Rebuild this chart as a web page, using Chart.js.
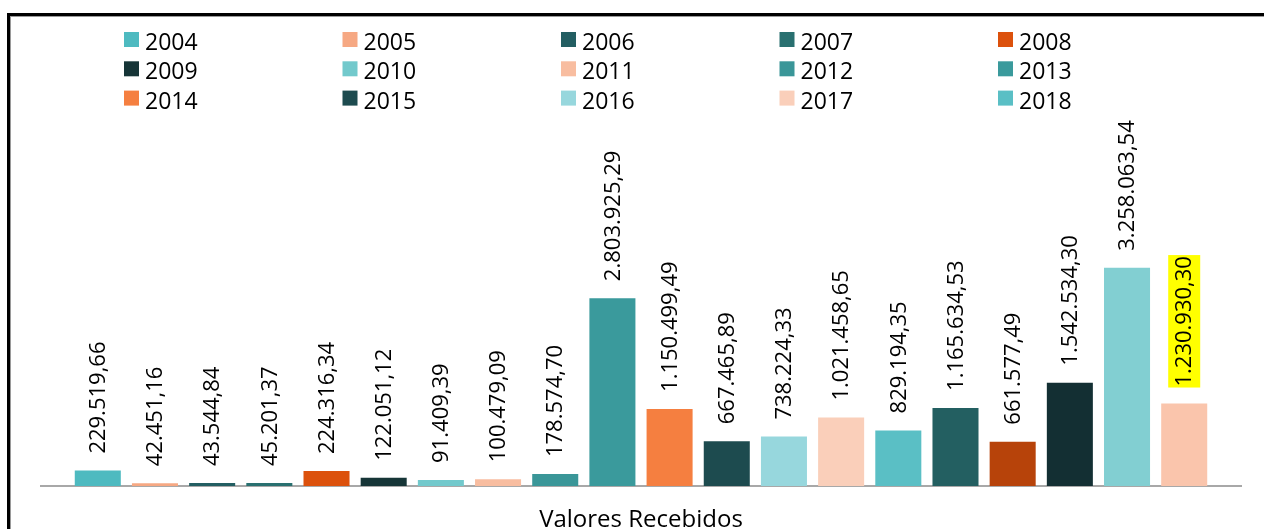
<!DOCTYPE html>
<html>
<head>
<meta charset="utf-8">
<script src="https://cdn.jsdelivr.net/npm/chart.js@4/dist/chart.umd.min.js"></script>
<style>
  body { margin: 0; background: #fff; }
  #wrap { position: relative; width: 1264px; height: 529px; overflow: hidden; }
  #frame {
    position: absolute; left: 7px; top: 13px; width: 1300px; height: 600px;
    border-top: 3px solid #000; border-left: 3px solid #000;
    box-shadow: inset 1px 1px 0 #9a9a9a;
  }
  canvas { position: absolute; left: 0; top: 0; }
</style>
</head>
<body>
<div id="wrap">
  <div id="frame"></div>
  <canvas id="chart" width="1264" height="529"></canvas>
</div>
<script>
const category = ["Valores Recebidos"];

const years = [
  "2004", "2005", "2006", "2007", "2008",
  "2009", "2010", "2011", "2012", "2013",
  "2014", "2015", "2016", "2017", "2018",
  "2019", "2020", "2021", "2022", "2023",
];

const values = [
  229519.66, 42451.16, 43544.84, 45201.37, 224316.34,
  122051.12, 91409.39, 100479.09, 178574.70, 2803925.29,
  1150499.49, 667465.89, 738224.33, 1021458.65, 829194.35,
  1165634.53, 661577.49, 1542534.30, 3258063.54, 1230930.30,
];

const colors = [
  "#4ebac0", "#f6a883", "#235e62", "#297070", "#dc510c",
  "#163537", "#72c9cc", "#f8bda0", "#3a9698", "#3a9a9c",
  "#f57f40", "#1d4b4f", "#97d7dd", "#facfba", "#5abfc5",
  "#235f61", "#b7430a", "#132f33", "#82cfd2", "#fac5ac",
];

// only the first 15 series show in the legend
const legendCount = 15;
// label with yellow highlight
const highlighted = 19;

const FONT = "'Open Sans', sans-serif";

const fmt = (v) => {
  const [i, d] = v.toFixed(2).split(".");
  return i.replace(/\B(?=(\d{3})+(?!\d))/g, ".") + "," + d;
};

// rotated value labels above each bar
const valueLabels = {
  id: "valueLabels",
  afterDatasetsDraw(chart) {
    const ctx = chart.ctx;
    ctx.save();
    ctx.font = "22px " + FONT;
    chart.data.datasets.forEach((ds, i) => {
      const bar = chart.getDatasetMeta(i).data[0];
      const text = fmt(ds.data[0]);
      const w = ctx.measureText(text).width;
      ctx.save();
      ctx.translate(bar.x + 1, bar.y - 17);
      ctx.rotate(-Math.PI / 2);
      if (i === highlighted) {
        ctx.fillStyle = "#ffff00";
        ctx.fillRect(-1, -17, w + 2, 32);
      }
      ctx.fillStyle = "#000";
      ctx.textBaseline = "middle";
      ctx.fillText(text, 0, 0);
      ctx.restore();
    });
    ctx.restore();
  },
};

// legend laid out as a 5 column grid
const gridLegend = {
  id: "gridLegend",
  afterDraw(chart) {
    const ctx = chart.ctx;
    ctx.save();
    ctx.font = "23px " + FONT;
    ctx.textBaseline = "alphabetic";
    chart.data.datasets.slice(0, legendCount).forEach((ds, i) => {
      const col = i % 5;
      const row = Math.floor(i / 5);
      const x = 124 + col * 218.5;
      const y = 32 + row * 29.3;
      ctx.fillStyle = ds.backgroundColor;
      ctx.fillRect(x, y, 15, 15);
      ctx.fillStyle = "#000";
      ctx.fillText(ds.label, x + 21, y + 18);
    });
    ctx.restore();
  },
};

const ctx = document.getElementById("chart").getContext("2d");
new Chart(ctx, {
  type: "bar",
  data: {
    labels: category,
    datasets: years.map((y, i) => ({
      label: y,
      data: [values[i]],
      backgroundColor: colors[i],
      borderWidth: 0,
      categoryPercentage: 0.953,
      barPercentage: 0.805,
    })),
  },
  options: {
    responsive: false,
    animation: false,
    layout: { padding: { top: 112, left: 41, right: 23, bottom: -25 } },
    plugins: {
      legend: { display: false },
      tooltip: { enabled: false },
    },
    scales: {
      x: {
        grid: { display: false, drawTicks: false },
        border: { display: true, color: "#a8a8a8", width: 2 },
        ticks: {
          color: "#000",
          font: { family: FONT, size: 24, lineHeight: 1 },
          padding: 22,
        },
      },
      y: {
        display: false,
        min: 0,
        max: 5582000,
      },
    },
  },
  plugins: [valueLabels, gridLegend],
});
</script>
</body>
</html>
